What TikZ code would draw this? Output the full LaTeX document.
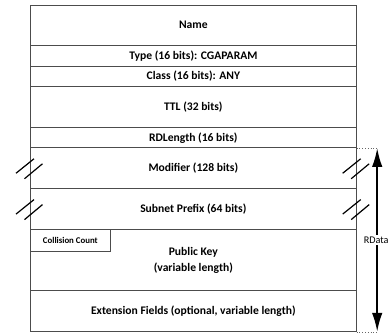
\documentclass[tikz,border=0pt]{standalone}
\usepackage{fontspec}
\setmainfont{Carlito}
\usetikzlibrary{arrows.meta}
\usetikzlibrary{positioning}
\newcommand{\fieldfont}{\bfseries\fontsize{11.6bp}{15.5bp}\selectfont}
\newcommand{\tinyfieldfont}{\bfseries\fontsize{8.8bp}{10bp}\selectfont}
\tikzstyle{field} = [rectangle, minimum width=326.7bp, inner sep=0pt, outer sep=0pt, align=center, draw=black!70, line width=0.9bp, font=\fieldfont]
\tikzstyle{tinyfield} = [rectangle, minimum width=80.7bp, minimum height=21.7bp, inner sep=0pt, outer sep=0pt, draw=black!70, line width=0.9bp, font=\tinyfieldfont]
\tikzstyle{slash} = [black, line width=1.2bp]
\tikzstyle{guide} = [black!60, dotted, line width=0.8bp]
\tikzstyle{lenarrow} = [{Latex[length=19bp,width=10.5bp]}-{Latex[length=19bp,width=10.5bp]}, line width=2.1bp]

\begin{document}
\begin{tikzpicture}[x=1bp, y=-1bp]
  \useasboundingbox (0,0) rectangle (388,335);

  % The record fields, top to bottom
  \node (name) [field, minimum height=40.5bp, anchor=north west] at (30,5) {Name};
  \node (type) [field, minimum height=20.7bp, below=0pt of name] {Type (16 bits): CGAPARAM};
  \node (class) [field, minimum height=20.7bp, below=0pt of type] {Class (16 bits): ANY};
  \node (ttl) [field, minimum height=41bp, below=0pt of class] {TTL (32 bits)};
  \node (rdlen) [field, minimum height=20bp, below=0pt of ttl] {RDLength (16 bits)};
  \node (mod) [field, minimum height=40.7bp, below=0pt of rdlen] {Modifier (128 bits)};
  \node (sub) [field, minimum height=41bp, below=0pt of mod] {Subnet Prefix (64 bits)};
  \node (pub) [field, minimum height=61.3bp, below=0pt of sub] {Public Key\\(variable length)};
  \node (ext) [field, minimum height=41bp, below=0pt of pub] {Extension Fields (optional, variable length)};
  \node (coll) [tinyfield, anchor=north west] at (pub.north west) {Collision Count};

  % Break marks on the side edges
  \draw [slash] ([shift={(-14,5)}]mod.west) -- ([shift={(4,-9.5)}]mod.west)
                ([shift={(-5.5,10.5)}]mod.west) -- ([shift={(12.5,-4.5)}]mod.west);
  \draw [slash] ([shift={(-14,5)}]mod.east) -- ([shift={(4,-9.5)}]mod.east)
                ([shift={(-5.5,10.5)}]mod.east) -- ([shift={(12.5,-4.5)}]mod.east);
  \draw [slash] ([shift={(-14,5)}]sub.west) -- ([shift={(4,-9.5)}]sub.west)
                ([shift={(-5.5,10.5)}]sub.west) -- ([shift={(12.5,-4.5)}]sub.west);
  \draw [slash] ([shift={(-14,5)}]sub.east) -- ([shift={(4,-9.5)}]sub.east)
                ([shift={(-5.5,10.5)}]sub.east) -- ([shift={(12.5,-4.5)}]sub.east);

  % RData span
  \coordinate (toparr) at ([xshift=20.5bp]mod.north east);
  \coordinate (botarr) at ([xshift=20.5bp]ext.south east);
  \draw [guide] (mod.north east) -- ++(22,0);
  \draw [guide] (ext.south east) -- ++(22,0);
  \draw [lenarrow] (toparr) -- node[fill=white, anchor=west, xshift=-16bp, inner sep=1.5bp, font=\fontsize{10.2bp}{12bp}\selectfont] {RData} (botarr);

\end{tikzpicture}
\end{document}
